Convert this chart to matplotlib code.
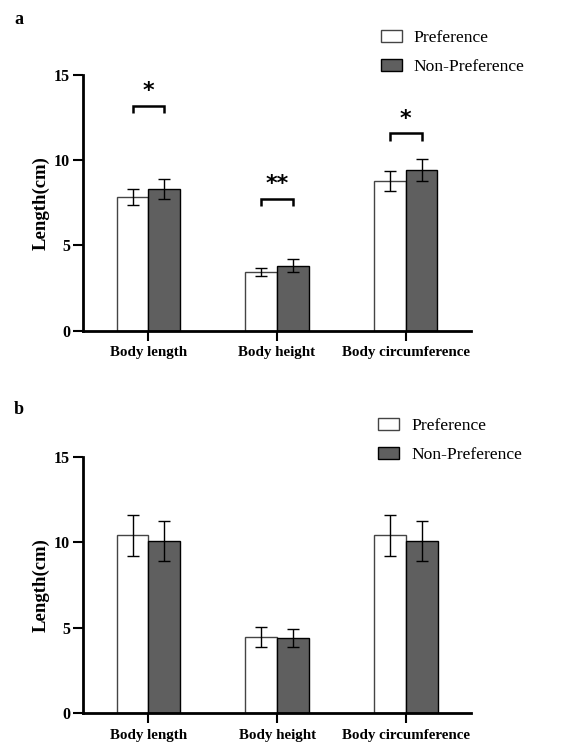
import matplotlib
matplotlib.use("Agg")
import matplotlib.pyplot as plt
import numpy as np

plt.rcParams['font.family'] = ['Liberation Serif', 'DejaVu Serif']

categories = ["Body length", "Body height", "Body circumference"]
series_names = ["Preference", "Non-Preference"]

a_pref = [7.85, 3.44, 8.80]
a_pref_err = [0.45, 0.25, 0.58]
a_nonpref = [8.30, 3.81, 9.43]
a_nonpref_err = [0.60, 0.37, 0.67]
a_sig = ["*", "**", "*"]
a_bracket_y = [13.2, 7.75, 11.6]

b_pref = [10.40, 4.48, 10.40]
b_pref_err = [1.20, 0.58, 1.20]
b_nonpref = [10.08, 4.38, 10.08]
b_nonpref_err = [1.18, 0.53, 1.18]

yticks = [0, 5, 10, 15]

W, H = 577, 742
fig = plt.figure(figsize=(W / 100, H / 100), dpi=100)

dark = "#5f5f5f"
bw = 0.246


def panel(rect, pref, pref_err, nonp, nonp_err, label, label_y, legend_xy, sig=None, bracket_y=None):
    ax = fig.add_axes(rect)
    x = np.arange(len(categories))
    ax.bar(x - bw / 2, pref, bw, color="white", edgecolor="#444444", linewidth=1.0,
           label=series_names[0], zorder=2)
    ax.bar(x + bw / 2, nonp, bw, color=dark, edgecolor="black", linewidth=1.0,
           label=series_names[1], zorder=2)
    ax.errorbar(x - bw / 2, pref, yerr=pref_err, fmt="none", ecolor="black",
                elinewidth=1.0, capsize=4, capthick=1.0, zorder=3)
    ax.errorbar(x + bw / 2, nonp, yerr=nonp_err, fmt="none", ecolor="black",
                elinewidth=1.0, capsize=4, capthick=1.0, zorder=3)
    ax.set_xlim(-0.51, 2.505)
    ax.set_ylim(0, 15)
    ax.set_yticks(yticks)
    ax.set_yticklabels([str(t) for t in yticks], fontweight="bold", fontsize=11.5)
    ax.set_xticks(x)
    ax.set_xticklabels(categories, fontweight="bold", fontsize=10.8)
    for s in ["top", "right"]:
        ax.spines[s].set_visible(False)
    for s in ["left", "bottom"]:
        ax.spines[s].set_linewidth(2.0)
    ax.tick_params(axis="y", direction="out", length=7, width=1.5, pad=2)
    ax.tick_params(axis="x", direction="out", length=7, width=1.5, pad=4)
    ax.set_ylabel("Length(cm)", fontweight="bold", fontsize=13.5, labelpad=3)
    if sig is not None:
        for i, (s, by) in enumerate(zip(sig, bracket_y)):
            x0, x1 = i - bw / 2, i + bw / 2
            ax.plot([x0, x0, x1, x1], [by - 0.45, by, by, by - 0.45], color="black",
                    linewidth=1.8, solid_capstyle="butt", solid_joinstyle="miter", zorder=4)
            ax.text(i, by + 0.25, s, ha="center", va="bottom", fontsize=16,
                    fontweight="bold", family="DejaVu Sans")
    ax.legend(loc="upper left", bbox_to_anchor=legend_xy,
              bbox_transform=fig.transFigure, frameon=False, fontsize=12.6,
              handlelength=1.2, handleheight=0.62, handletextpad=0.7,
              labelspacing=0.75, borderpad=0, borderaxespad=0)
    fig.text(19 / W, 1 - label_y / H, label, fontweight="bold", fontsize=13,
             ha="center", va="center")
    return ax


panel([82.7 / W, 1 - 330.7 / H, (470.7 - 82.7) / W, (330.7 - 75) / H],
      a_pref, a_pref_err, a_nonpref, a_nonpref_err, "a", 20,
      (380.7 / W, 1 - 30 / H), sig=a_sig, bracket_y=a_bracket_y)
panel([82.7 / W, 1 - 713.3 / H, (471 - 82.7) / W, (713.3 - 456.7) / H],
      b_pref, b_pref_err, b_nonpref, b_nonpref_err, "b", 410,
      (378 / W, 1 - 418 / H))

fig.savefig("out.png", dpi=100)
